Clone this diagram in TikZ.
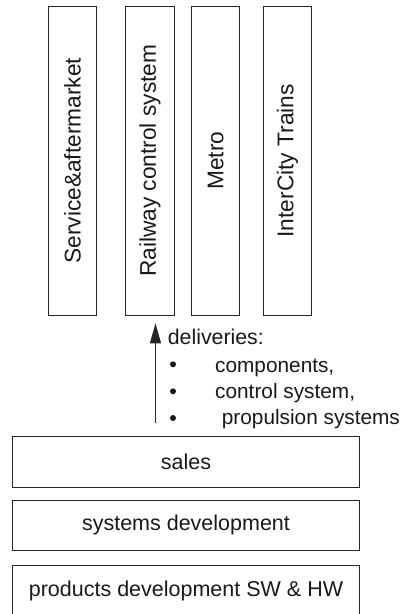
\documentclass[tikz,border=0pt]{standalone}
\usepackage{fontspec}
\setmainfont{Liberation Sans}
\usetikzlibrary{arrows.meta}
\begin{document}
\begin{tikzpicture}[x=1pt,y=-1pt,
  unitbox/.style={draw=black!85,line width=0.9pt,inner sep=0pt,
    font=\fontsize{22.7}{26}\selectfont,text=black!90},
  layerbox/.style={draw=black!85,line width=0.9pt,inner sep=0pt,
    minimum width=346.6pt,font=\fontsize{21.5}{25}\selectfont,text=black!90},
  itemtext/.style={anchor=base west,inner sep=0pt,
    font=\fontsize{20.8}{25}\selectfont,text=black!90},
  dot/.style={circle,fill=black!90,inner sep=0pt,minimum size=6pt}]
\useasboundingbox (0,0) rectangle (403,614);

% business units (vertical columns)
\node[unitbox,minimum width=48.2pt,minimum height=308.3pt] (svc) at (72.6,160.8)
  {\rotatebox{90}{Service\&aftermarket}};
\node[unitbox,minimum width=48.2pt,minimum height=308.3pt] (rail) at (150,160.8)
  {\rotatebox{90}{Railway control system}};
\node[unitbox,minimum width=48.2pt,minimum height=308.3pt] (metro) at (215.8,160.8)
  {\rotatebox{90}{Metro}};
\node[unitbox,minimum width=48.2pt,minimum height=308.3pt] (ic) at (287.5,160.8)
  {\rotatebox{90}{InterCity Trains}};

% horizontal layers
\node[layerbox,minimum height=51.3pt] (sales) at (186,461.7) {sales};
\node[layerbox,minimum height=50.7pt] (sysdev) at (186,525.3) {systems development};
\node[layerbox,minimum height=51pt] (proddev) at (186,590.5) {products development SW \& HW};

% deliveries arrow
\coordinate (tail) at (155.5,423);
\coordinate (head) at (155.5,323.3);
\draw[black!85,line width=0.9pt,-{Triangle[length=20pt,width=11pt]}] (tail) -- (head);

% deliveries list
\node[itemtext,font=\fontsize{21.3}{25}\selectfont] (deliv) at (167.7,344.5) {deliveries:};
\node[dot] (b1) at (173,364.3) {};
\node[dot] (b2) at (173,391.3) {};
\node[dot] (b3) at (173,418) {};
\node[itemtext] (comp) at (215,372.5) {components,};
\node[itemtext] (ctrl) at (215,398.3) {control system,};
\node[itemtext] (prop) at (221.7,424) {propulsion systems};
\end{tikzpicture}
\end{document}
